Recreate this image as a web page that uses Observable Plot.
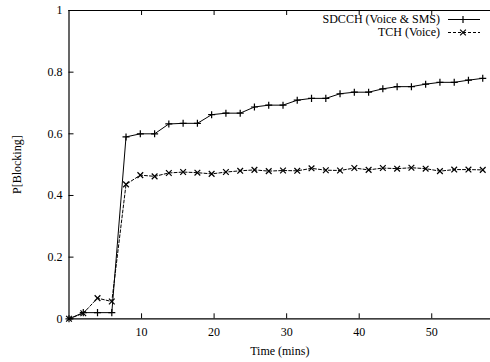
<!DOCTYPE html>
<html><head><meta charset="utf-8">
<script src="https://cdn.jsdelivr.net/npm/d3@7"></script>
<script src="https://cdn.jsdelivr.net/npm/@observablehq/plot@0.6"></script>
<style>body{margin:0;background:#fff;} #chart{width:490px;height:362px;}</style>
</head><body><div id="chart"></div>
<script>
// Data
const times = [0, 1.97, 3.93, 5.9, 7.86, 9.83, 11.8, 13.76, 15.73, 17.7, 19.66, 21.63, 23.6, 25.56, 27.53, 29.5, 31.46, 33.43, 35.4, 37.36, 39.33, 41.3, 43.26, 45.23, 47.2, 49.16, 51.13, 53.1, 55.06, 57.03];
const sdcch = [0, 0.02, 0.02, 0.02, 0.59, 0.60, 0.60, 0.632, 0.634, 0.634, 0.662, 0.667, 0.667, 0.687, 0.693, 0.693, 0.709, 0.715, 0.715, 0.73, 0.735, 0.735, 0.746, 0.753, 0.753, 0.761, 0.767, 0.767, 0.774, 0.78];
const tch = [0, 0.018, 0.067, 0.056, 0.436, 0.466, 0.462, 0.473, 0.476, 0.474, 0.47, 0.476, 0.48, 0.483, 0.479, 0.481, 0.48, 0.488, 0.482, 0.481, 0.489, 0.483, 0.489, 0.487, 0.49, 0.487, 0.479, 0.484, 0.484, 0.483];
const seriesNames = ["SDCCH (Voice & SMS)", "TCH (Voice)"];
const xTicks = [10, 20, 30, 40, 50];
const yTicks = [0, 0.2, 0.4, 0.6, 0.8, 1];
const yTickLabels = ["0", "0.2", "0.4", "0.6", "0.8", "1"];
const xDomain = [0, 58.1];
const yDomain = [0, 1];
const xLabel = "Time (mins)";
const yLabel = "P[Blocking]";

const W = 490, H = 362, mL = 68.5, mR = 0, mT = 10, mB = 43.7;
const pw = W - mL - mR, ph = H - mT - mB;
const font = "'Liberation Serif', 'Times New Roman', serif";

const sdcchData = times.map((t, i) => ({t, v: sdcch[i]}));
const tchData = times.map((t, i) => ({t, v: tch[i]}));

const plusR = 2.4, timesR = 2.7;

function legend(index, scales, values, dims) {
  const g = d3.create("svg:g").attr("font-family", font).attr("font-size", 12);
  const rows = [
    {name: seriesNames[0], dash: null, sym: d3.symbolPlus, size: Math.PI * plusR * plusR},
    {name: seriesNames[1], dash: "3,2", sym: d3.symbolTimes, size: Math.PI * timesR * timesR}
  ];
  const right = dims.width - dims.marginRight;
  rows.forEach((r, i) => {
    const y = dims.marginTop + 9.5 + i * 13;
    g.append("text").attr("x", right - 50).attr("y", y).attr("dy", "0.32em")
      .attr("text-anchor", "end").attr("fill", "#000").text(r.name);
    g.append("line").attr("x1", right - 42).attr("x2", right - 10).attr("y1", y).attr("y2", y)
      .attr("stroke", "#000").attr("stroke-width", 1).attr("stroke-dasharray", r.dash);
    g.append("path").attr("transform", `translate(${right - 27},${y})`)
      .attr("d", d3.symbol(r.sym, r.size)()).attr("fill", "none").attr("stroke", "#000").attr("stroke-width", 1.2);
  });
  return g.node();
}

const chart = Plot.plot({
  width: W, height: H,
  marginLeft: mL, marginRight: mR, marginTop: mT, marginBottom: mB,
  style: {fontFamily: font, fontSize: "12px", color: "#000", background: "#fff", overflow: "visible"},
  x: {domain: xDomain},
  y: {domain: yDomain},
  marks: [
    Plot.ruleY([yDomain[1]], {stroke: "#000", strokeWidth: 1.2}),
    Plot.ruleY([yDomain[0]], {stroke: "#000", strokeWidth: 1.2}),
    Plot.ruleX([xDomain[0]], {stroke: "#000", strokeWidth: 1.2}),
    Plot.tickX(xTicks, {x: d => d, insetTop: ph - 5, stroke: "#000"}),
    Plot.tickX(xTicks, {x: d => d, insetBottom: ph - 5, stroke: "#000"}),
    Plot.tickY(yTicks, {y: d => d, insetRight: pw - 5, stroke: "#000"}),
    Plot.axisX(xTicks, {tickSize: 0, tickPadding: 9, label: xLabel, labelArrow: "none", labelAnchor: "center", labelOffset: 36}),
    Plot.axisY(yTicks, {tickSize: 0, tickPadding: 6.5, tickFormat: d => yTickLabels[yTicks.indexOf(d)], label: yLabel, labelArrow: "none", labelAnchor: "center", labelOffset: 57}),
    Plot.line(sdcchData, {x: "t", y: "v", stroke: "#000", strokeWidth: 1}),
    Plot.dot(sdcchData, {x: "t", y: "v", symbol: "plus", r: plusR, stroke: "#000", strokeWidth: 1.2}),
    Plot.line(tchData, {x: "t", y: "v", stroke: "#000", strokeWidth: 1, strokeDasharray: "3,2"}),
    Plot.dot(tchData, {x: "t", y: "v", symbol: "times", r: timesR, stroke: "#000", strokeWidth: 1.2}),
    legend
  ]
});
document.getElementById("chart").appendChild(chart);
</script>
</body></html>
